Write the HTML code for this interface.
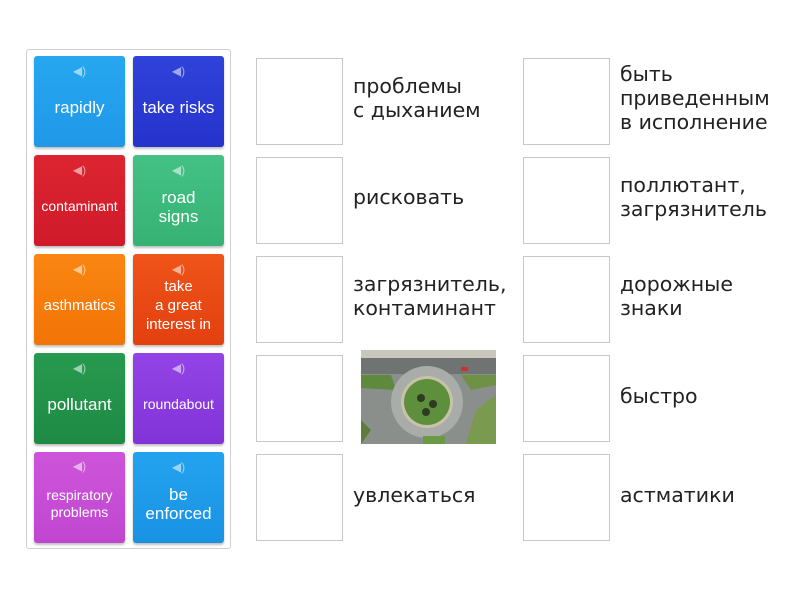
<!DOCTYPE html>
<html><head><meta charset="utf-8"><style>
body{margin:0;width:800px;height:600px;background:#fff;position:relative;overflow:hidden;font-family:"Liberation Sans",sans-serif}
.panel{position:absolute;left:26px;top:49px;width:205px;height:500px;border:1px solid #cfcfcf;border-radius:3px;box-sizing:border-box}
.t{position:absolute;width:91px;height:91px;border-radius:3px;color:#fff;display:flex;align-items:center;justify-content:center;text-align:center;font-size:17px;line-height:19px;box-shadow:0 2px 2px rgba(0,0,0,.25);box-sizing:border-box;padding-top:12px}
.t .s{position:absolute;top:6px;left:0;right:0;text-align:center;font-size:12px;color:rgba(255,255,255,.55)}
.b{position:absolute;width:87px;height:87px;border:1px solid #c8c8c8;box-sizing:border-box}
.x{position:absolute;font-family:"DejaVu Sans",sans-serif;font-size:20.5px;line-height:24px;color:#222;display:flex;align-items:center;height:87px;width:178px;white-space:nowrap}
</style></head><body>
<div class="panel"></div>
<div class="t" style="left:34px;top:56px;background:linear-gradient(#27a7f0,#1f98e8)"><span class="s">◀)</span>rapidly</div>
<div class="t" style="left:133px;top:56px;background:linear-gradient(#2f42da,#2533cc)"><span class="s">◀)</span>take risks</div>
<div class="t" style="left:34px;top:155px;background:linear-gradient(#dc2530,#cf1a2a);font-size:14px"><span class="s">◀)</span>contaminant</div>
<div class="t" style="left:133px;top:155px;background:linear-gradient(#44c185,#36b274)"><span class="s">◀)</span>road<br>signs</div>
<div class="t" style="left:34px;top:254px;background:linear-gradient(#fa8612,#f27406);font-size:15px"><span class="s">◀)</span>asthmatics</div>
<div class="t" style="left:133px;top:254px;background:linear-gradient(#ef5418,#e34010);font-size:15px;line-height:19px"><span class="s">◀)</span>take<br>a great<br>interest in</div>
<div class="t" style="left:34px;top:353px;background:linear-gradient(#279a4f,#1f8a44)"><span class="s">◀)</span>pollutant</div>
<div class="t" style="left:133px;top:353px;background:linear-gradient(#9344e6,#8233d8);font-size:14px"><span class="s">◀)</span>roundabout</div>
<div class="t" style="left:34px;top:452px;background:linear-gradient(#cd55da,#c046d0);font-size:14px;line-height:17px"><span class="s">◀)</span>respiratory<br>problems</div>
<div class="t" style="left:133px;top:452px;background:linear-gradient(#23a3ef,#1992e4)"><span class="s">◀)</span>be<br>enforced</div>

<div class="b" style="left:256px;top:58px"></div>
<div class="b" style="left:256px;top:157px"></div>
<div class="b" style="left:256px;top:256px"></div>
<div class="b" style="left:256px;top:355px"></div>
<div class="b" style="left:256px;top:454px"></div>
<div class="b" style="left:523px;top:58px"></div>
<div class="b" style="left:523px;top:157px"></div>
<div class="b" style="left:523px;top:256px"></div>
<div class="b" style="left:523px;top:355px"></div>
<div class="b" style="left:523px;top:454px"></div>

<div class="x" style="left:353px;top:54px">проблемы<br>с дыханием</div>
<div class="x" style="left:353px;top:153px">рисковать</div>
<div class="x" style="left:353px;top:252px">загрязнитель,<br>контаминант</div>
<div class="x" style="left:353px;top:451px">увлекаться</div>
<div class="x" style="left:620px;top:54px">быть<br>приведенным<br>в исполнение</div>
<div class="x" style="left:620px;top:153px">поллютант,<br>загрязнитель</div>
<div class="x" style="left:620px;top:252px">дорожные<br>знаки</div>
<div class="x" style="left:620px;top:352px">быстро</div>
<div class="x" style="left:620px;top:451px">астматики</div>

<svg style="position:absolute;left:361px;top:350px" width="135" height="94" viewBox="0 0 135 94">
<rect width="135" height="94" fill="#8a8f8c"/>
<rect x="0" y="0" width="135" height="8" fill="#c9c7bd"/>
<rect x="0" y="8" width="135" height="16" fill="#6f7473"/>
<path d="M0 25 L30 25 L35 40 L0 38Z" fill="#5f8a3e"/>
<path d="M100 25 L135 25 L135 35 L110 40Z" fill="#6e9146"/>
<path d="M115 60 L135 45 L135 94 L105 94Z" fill="#7a9a4f"/>
<path d="M0 70 L10 80 L0 94Z" fill="#5e7d3a"/>
<circle cx="66" cy="52" r="36" fill="#a9aca8"/>
<circle cx="66" cy="52" r="26" fill="#c8c3a8"/>
<circle cx="66" cy="52" r="23" fill="#5e8f3c"/>
<circle cx="60" cy="48" r="4" fill="#2e3a22"/><circle cx="72" cy="54" r="4" fill="#2e3a22"/><circle cx="65" cy="62" r="4" fill="#2e3a22"/>
<rect x="62" y="86" width="22" height="8" fill="#6b9a45"/>
<rect x="100" y="17" width="7" height="4" fill="#d03030"/>
</svg>
</body></html>
